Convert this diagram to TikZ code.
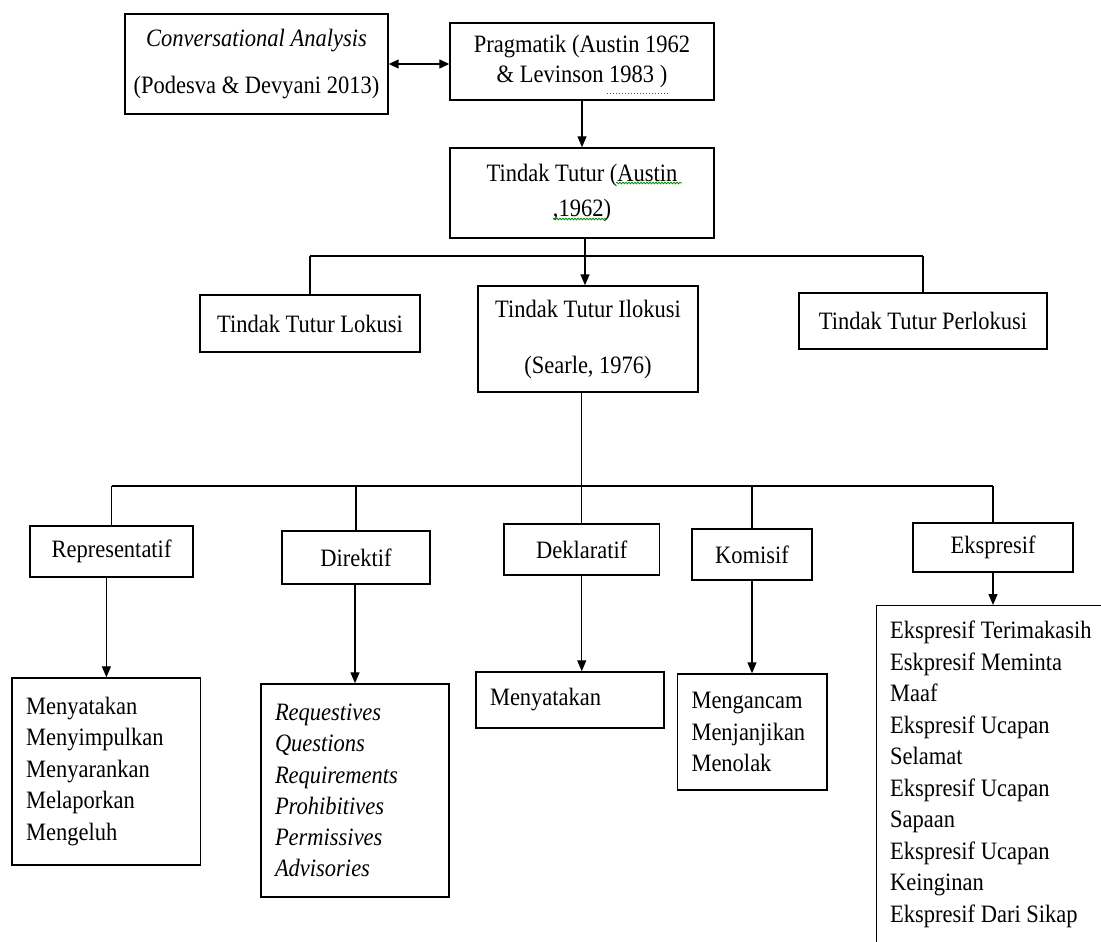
\documentclass[tikz,border=0pt]{standalone}
\usepackage{fontspec}
\setmainfont{Liberation Serif}[FakeStretch=0.9]
\usetikzlibrary{arrows.meta,decorations.pathmorphing}
\begin{document}
\begin{tikzpicture}[x=1pt,y=-1pt,
  box/.style={draw, line width=1.4pt, inner sep=0pt, align=center, font=\fontsize{25}{30}\selectfont},
  listbox/.style={draw, line width=1.4pt, inner xsep=14pt, inner ysep=0pt, align=flush left, font=\fontsize{25}{31.5}\selectfont},
  ln/.style={line width=1.3pt},
  arr/.style={line width=1.3pt, -{Triangle[length=11pt,width=9pt]}},
  darr/.style={line width=1.3pt, {Triangle[length=10pt,width=9pt]}-{Triangle[length=10pt,width=9pt]}},
  spell/.style={green!55!black, line width=0.8pt, decorate, decoration={snake, amplitude=0.8pt, segment length=3pt}},
  spelldot/.style={green!55!black, line width=1pt, dotted}
]
\useasboundingbox (0,0) rectangle (1101,942);

% top row
\node[box, minimum width=263pt, minimum height=100pt] (conv) at (256.5,64)
  {\textit{Conversational Analysis}\\[17pt](Podesva \& Devyani 2013)};
\node[box, minimum width=264pt, minimum height=77pt] (prag) at (582,61.5)
  {Pragmatik (Austin 1962\\\& Levinson 1983 )};
\node[box, minimum width=264pt, minimum height=90pt] (tt) at (582,193)
  {Tindak Tutur (Austin\\[5pt],1962)};

% second level
\node[box, minimum width=220pt, minimum height=57pt] (lok) at (310,323.5) {Tindak Tutur Lokusi};
\node[box, minimum width=220pt, minimum height=106pt] (ilo) at (588,339)
  {Tindak Tutur Ilokusi\\[26pt](Searle, 1976)};
\node[box, minimum width=248pt, minimum height=56pt] (perl) at (923,321) {Tindak Tutur Perlokusi};

% third level
\node[box, minimum width=163pt, minimum height=51pt] (rep) at (111.5,551.5) {Representatif};
\node[box, minimum width=148pt, minimum height=53pt] (dir) at (356,557.5) {Direktif};
\node[box, minimum width=155.5pt, minimum height=51pt] (dek) at (581.75,549.5) {Deklaratif};
\node[box, minimum width=120pt, minimum height=51pt] (kom) at (752,554.5) {Komisif};
\node[box, minimum width=160pt, minimum height=49pt] (eks) at (993,547.5) {Ekspresif};

% lists
\node[listbox, text width=160.7pt, minimum height=187pt] (replist) at (106.4,771.5)
  {Menyatakan\\Menyimpulkan\\Menyarankan\\Melaporkan\\Mengeluh};
\node[listbox, text width=160pt, minimum height=213pt, font=\fontsize{25}{31.2}\selectfont\itshape] (dirlist) at (355,790.5)
  {Requestives\\Questions\\Requirements\\Prohibitives\\Permissives\\Advisories};
\node[listbox, text width=160pt, minimum height=56pt] (deklist) at (570,700) {Menyatakan};
\node[listbox, text width=121.5pt, minimum height=116pt] (komlist) at (752.25,732)
  {Mengancam\\Menjanjikan\\Menolak};
\node[draw, line width=1.4pt, anchor=north west, minimum width=260pt, minimum height=370pt, inner sep=0pt] (ekslist) at (876,605) {};
\node[anchor=north west, inner sep=0pt, align=flush left, text width=220pt, font=\fontsize{25}{31.5}\selectfont] (ekstext) at (890,621)
  {Ekspresif Terimakasih\\Eskpresif Meminta\\Maaf\\Ekspresif Ucapan\\Selamat\\Ekspresif Ucapan\\Sapaan\\Ekspresif Ucapan\\Keinginan\\Ekspresif Dari Sikap};

% connectors top
\draw[darr] (conv.east) -- (conv.east -| prag.west);
\draw[arr] (prag.south) -- (tt.north);

\coordinate (j1) at (585,256);
\draw[ln] (tt.south -| j1) -- (j1);
\draw[ln] (lok.north |- j1) -- (perl.north |- j1);
\draw[ln] (lok.north |- j1) -- (lok.north);
\draw[ln] (perl.north |- j1) -- (perl.north);
\draw[arr] (j1) -- (ilo.north -| j1);

% connectors lower
\coordinate (j2) at (583,486);
\draw[ln] (ilo.south -| dek.north) -- (dek.north);
\draw[ln] (rep.north |- j2) -- (eks.north |- j2);
\draw[ln] (rep.north |- j2) -- (rep.north);
\draw[ln] (dir.north |- j2) -- (dir.north);
\draw[ln] (kom.north |- j2) -- (kom.north);
\draw[ln] (eks.north |- j2) -- (eks.north);

\draw[arr] (rep.south -| replist.north) -- (replist.north);
\draw[arr] (dir.south -| dirlist.north) -- (dirlist.north);
\draw[arr] (dek.south) -- (dek.south |- deklist.north);
\draw[arr] (kom.south) -- (kom.south |- komlist.north);
\draw[arr] (eks.south) -- (eks.south |- ekslist.north);

% spelling marks
\draw[spelldot] (607,94) -- (668,94);
\draw[spell] (616,183) -- (682,183);
\draw[spell] (553,219) -- (606,219);
\end{tikzpicture}
\end{document}
